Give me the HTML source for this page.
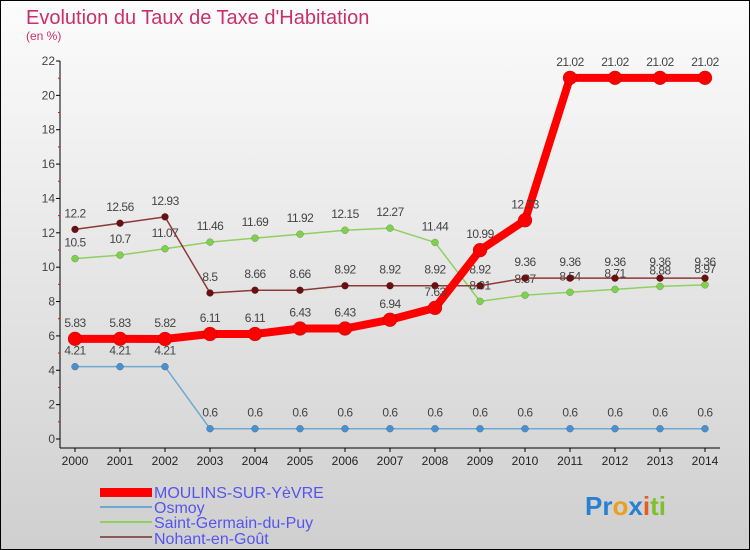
<!DOCTYPE html>
<html><head><meta charset="utf-8"><style>
body{margin:0}
#c{width:750px;height:550px;position:relative;overflow:hidden}
svg{font-family:"Liberation Sans",sans-serif}
</style></head><body>
<div id="c">
<svg id="s" width="750" height="550" xmlns="http://www.w3.org/2000/svg">
<defs><linearGradient id="bg" x1="0" y1="0" x2="0" y2="1"><stop offset="0" stop-color="#fcfcfc"/><stop offset="1" stop-color="#cfcfcf"/></linearGradient></defs>
<rect x="0.5" y="0.5" width="749" height="549" fill="url(#bg)" stroke="#000"/>
<text x="26" y="24" font-size="20" fill="#c8306a">Evolution du Taux de Taxe d'Habitation</text>
<text x="26" y="40" font-size="12" fill="#c8306a">(en %)</text>
<g id="axes"></g><g id="series"></g>
<g>
<rect x="100" y="488" width="52" height="9" fill="#f00"/>
<text x="154" y="498" font-size="16" fill="#5555ee">MOULINS-SUR-YèVRE</text>
<rect x="100" y="506" width="52" height="2" fill="#6fa8d0"/>
<text x="154" y="513" font-size="16" fill="#5555ee">Osmoy</text>
<rect x="100" y="521" width="52" height="2" fill="#8fd060"/>
<text x="154" y="528" font-size="16" fill="#5555ee">Saint-Germain-du-Puy</text>
<rect x="100" y="536" width="52" height="2" fill="#8a5a5a"/>
<text x="154" y="544" font-size="16" fill="#5555ee">Nohant-en-Goût</text>
</g>
<g font-size="26" font-weight="bold">
<text x="585" y="515"><tspan fill="#2a7fd0">Pr</tspan><tspan fill="#e8a020">o</tspan><tspan fill="#2a7fd0">x</tspan><tspan fill="#e06020">i</tspan><tspan fill="#80c030">ti</tspan></text>
</g>
</svg></div>
<script>
const years=[2000,2001,2002,2003,2004,2005,2006,2007,2008,2009,2010,2011,2012,2013,2014];
const yTicks=[0,2,4,6,8,10,12,14,16,18,20,22];
const moulins=[5.83,5.83,5.82,6.11,6.11,6.43,6.43,6.94,7.63,10.99,12.73,21.02,21.02,21.02,21.02];
const osmoy=[4.21,4.21,4.21,0.6,0.6,0.6,0.6,0.6,0.6,0.6,0.6,0.6,0.6,0.6,0.6];
const stGermain=[10.5,10.7,11.07,11.46,11.69,11.92,12.15,12.27,11.44,8.01,8.37,8.54,8.71,8.88,8.97];
const nohant=[12.2,12.56,12.93,8.5,8.66,8.66,8.92,8.92,8.92,8.92,9.36,9.36,9.36,9.36,9.36];
const NS="http://www.w3.org/2000/svg";
const X=i=>75+i*45, Y=v=>439-v*(378/22);
function mk(t,a,p){const e=document.createElementNS(NS,t);for(const k in a)e.setAttribute(k,a[k]);p.appendChild(e);return e;}
const ax=document.getElementById('axes');
let l=mk('line',{x1:60,y1:61,x2:60,y2:448,stroke:'#000'},ax);


l=mk('line',{x1:60,y1:448,x2:720,y2:448,stroke:'#000'},ax);


yTicks.forEach(v=>{const t=mk('text',{x:55,y:Y(v)+4,'font-size':12,fill:'#444','text-anchor':'end'},ax);t.textContent=v;


mk('line',{x1:56,x2:60,y1:Y(v),y2:Y(v),stroke:'#000'},ax);
if(v<22)mk('line',{x1:58,x2:60,y1:Y(v+1),y2:Y(v+1),stroke:'#f00'},ax);});
years.forEach((y,i)=>{const t=mk('text',{x:X(i),y:465,'font-size':12,fill:'#222','text-anchor':'middle'},ax);t.textContent=y;


mk('line',{x1:X(i),x2:X(i),y1:448,y2:452,stroke:'#000'},ax);});
const sg=document.getElementById('series');
function draw(d,col,w,r,dot,name){const g=mk('g',{},sg);


mk('polyline',{points:d.map((v,i)=>X(i)+','+Y(v)).join(' '),fill:'none',stroke:col,'stroke-width':w,'stroke-linejoin':'round'},g);
d.forEach((v,i)=>{const c=mk('circle',{cx:X(i),cy:Y(v),r:r,fill:dot,stroke:'rgba(0,0,0,0.3)','stroke-width':0.5},g);


const t=mk('text',{x:X(i),y:Y(v)-12,'font-size':12,fill:'#444','text-anchor':'middle','letter-spacing':'-0.5'},g);t.textContent=v;

});}
draw(osmoy,'#6fa8d0',1.5,3.5,'#4a90d0','series-osmoy');
draw(stGermain,'#8fd060',1.5,3.5,'#80d050','series-saint-germain');
draw(nohant,'#8a3a3a',1.5,3.5,'#6a1010','series-nohant');
draw(moulins,'#ff0000',8,7,'#ff0000','series-moulins');
</script>
</body></html>
